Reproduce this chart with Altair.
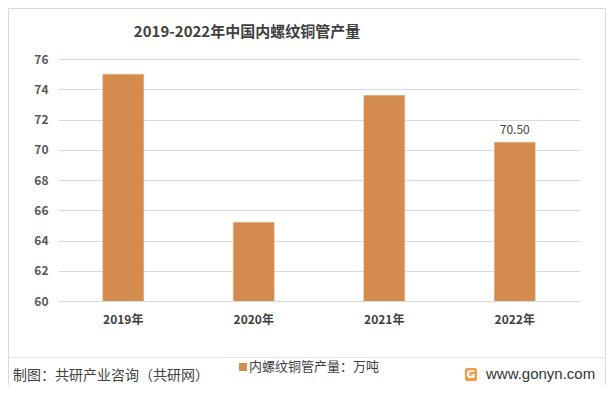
import altair as alt
import pandas as pd

years = ["2019年", "2020年", "2021年", "2022年"]
values = [75.0, 65.2, 73.6, 70.5]
labels = ["", "", "", "70.50"]
y_ticks = [60, 62, 64, 66, 68, 70, 72, 74, 76]

title_text = "2019-2022年中国内螺纹铜管产量"
legend_text = "内螺纹铜管产量：万吨"
source_text = "制图：共研产业咨询（共研网）"
site_text = "www.gonyn.com"

FONT = "Noto Sans CJK SC"
BAR = "#D48C4E"
df = pd.DataFrame({"year": years, "value": values, "label": labels})

base = alt.Chart(df)

xenc = alt.X("year:N", sort=years, title=None,
             scale=alt.Scale(paddingInner=0.686, paddingOuter=0.343),
             axis=alt.Axis(labelAngle=0, labelFont=FONT, labelFontSize=12,
                           labelColor="#404040", labelFontWeight="bold",
                           labelPadding=13, ticks=False, domainColor="#d9d9d9",
                           grid=False))
yenc = alt.Y("value:Q", title=None,
             scale=alt.Scale(domain=[60, 76], nice=False, zero=False),
             axis=alt.Axis(values=y_ticks, labelFont=FONT, labelFontSize=12,
                           labelColor="#595959", labelFontWeight="bold",
                           labelPadding=10, ticks=False, domain=False,
                           labelOverlap=False,
                           gridColor="#d9d9d9", gridWidth=1))

bars = base.mark_bar(color=BAR, stroke="#E8B58A", strokeWidth=0.5, clip=True).encode(
    x=xenc, y=yenc)

bar_text = base.mark_text(font=FONT, fontSize=12, color="#404040",
                          baseline="bottom", dy=-5).encode(
    x=xenc, y=yenc, text="label:N")

one = alt.Data(values=[{}])

border = alt.Chart(one).mark_rect(fill=None, stroke="#d9d9d9", strokeWidth=1).encode(
    x=alt.value(-49.5), x2=alt.value(547.5), y=alt.value(-50.5), y2=alt.value(326.5))

sep = alt.Chart(one).mark_rule(color="#e3e3e3", strokeWidth=1).encode(
    x=alt.value(-49), x2=alt.value(547), y=alt.value(298.5))

title = alt.Chart(one).mark_text(font=FONT, fontSize=15, fontWeight="bold",
                                 color="#404040", align="center", baseline="middle").encode(
    x=alt.value(189), y=alt.value(-27), text=alt.value(title_text))

leg_sq = alt.Chart(one).mark_square(color=BAR, size=64, opacity=1).encode(
    x=alt.value(185), y=alt.value(308))
leg_tx = alt.Chart(one).mark_text(font=FONT, fontSize=13, color="#404040",
                                  align="left", baseline="middle").encode(
    x=alt.value(191), y=alt.value(308), text=alt.value(legend_text))

src = alt.Chart(one).mark_text(font=FONT, fontSize=14, color="#404040",
                               align="left", baseline="middle").encode(
    x=alt.value(-45), y=alt.value(317), text=alt.value(source_text))

logo = alt.Chart(one).mark_rect(color="#F29B45", cornerRadius=2).encode(
    x=alt.value(407), x2=alt.value(419), y=alt.value(309), y2=alt.value(322))
logo_g = alt.Chart(one).mark_text(font="DejaVu Sans", fontSize=11, fontWeight="bold",
                                  color="white", align="center", baseline="middle").encode(
    x=alt.value(413), y=alt.value(316), text=alt.value("G"))
site = alt.Chart(one).mark_text(font="Liberation Sans", fontSize=15, color="#333333",
                                align="left", baseline="middle").encode(
    x=alt.value(428), y=alt.value(315), text=alt.value(site_text))

chart = alt.layer(
    border, sep, bars, bar_text, title, leg_sq, leg_tx, src, logo, logo_g, site
).properties(
    width=522, height=242,
    autosize=alt.AutoSizeParams(type="none"),
    padding={"left": 50, "top": 51, "right": 26, "bottom": 84},
    background="white",
).configure_view(stroke=None)

chart.save("out.html", embed_options={"renderer": "svg", "actions": False})
